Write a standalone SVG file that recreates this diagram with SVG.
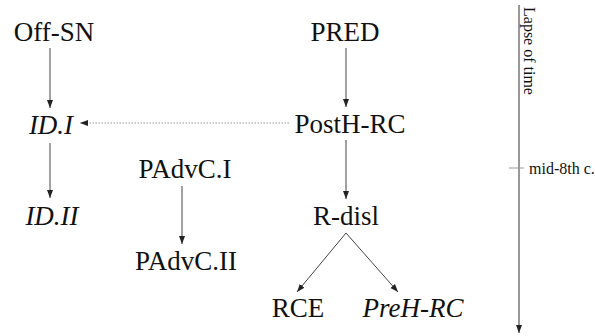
<svg xmlns="http://www.w3.org/2000/svg" width="595" height="336" viewBox="0 0 595 336">
  <style>
    .lbl { font-size: 27px; fill: #111; text-anchor: middle; }
    .it { font-style: italic; }
    .edge { stroke: #444; stroke-width: 1; fill: none; marker-end: url(#ah); }
    .dot { stroke: #999; stroke-width: 1; stroke-dasharray: 1.5 1.5; fill: none; marker-end: url(#ah); }
    .small { font-size: 16px; fill: #111; }
  </style>
  <defs>
    <marker id="ah" viewBox="0 0 8 8" refX="8" refY="4" markerWidth="8" markerHeight="8" markerUnits="userSpaceOnUse" orient="auto">
      <path d="M0,1 L8,4 L0,7 Z" fill="#222"/>
    </marker>
  </defs>
  <rect width="595" height="336" fill="#fff"/>

  <g id="connectors">
    <line class="edge" x1="50" y1="48" x2="50" y2="108"/>
    <line class="edge" x1="50" y1="143" x2="50" y2="198"/>
    <line class="dot" x1="289" y1="123" x2="80" y2="123"/>
    <line class="edge" x1="346" y1="48" x2="346" y2="107"/>
    <line class="edge" x1="346" y1="140" x2="346" y2="199"/>
    <line class="edge" x1="182" y1="186" x2="182" y2="244"/>
    <line class="edge" x1="346" y1="233" x2="297" y2="292"/>
    <line class="edge" x1="346" y1="233" x2="398" y2="292"/>
  </g>

  <g font-family="Liberation Serif, serif">
    <g id="off-sn"><text class="lbl" x="54" y="41">Off-SN</text></g>
    <g id="pred"><text class="lbl" x="345" y="41">PRED</text></g>
    <g id="id-i"><text class="lbl it" x="51" y="134">ID.I</text></g>
    <g id="posth-rc"><text class="lbl" x="350" y="133">PostH-RC</text></g>
    <g id="padvc-i"><text class="lbl" x="185" y="178">PAdvC.I</text></g>
    <g id="id-ii"><text class="lbl it" x="52" y="225">ID.II</text></g>
    <g id="r-disl"><text class="lbl" x="346" y="225">R-disl</text></g>
    <g id="padvc-ii"><text class="lbl" x="186" y="270">PAdvC.II</text></g>
    <g id="rce"><text class="lbl" x="298" y="317">RCE</text></g>
    <g id="preh-rc"><text class="lbl it" x="413" y="317">PreH-RC</text></g>

    <!-- time axis with mid-8th century tick -->
    <g id="timeline">
      <line x1="519" y1="5" x2="519" y2="333" stroke="#333" stroke-width="1" marker-end="url(#ah)"/>
      <line x1="509" y1="168" x2="524" y2="168" stroke="#999" stroke-width="1"/>
      <text class="small" x="529" y="174">mid-8th c.</text>
      <text class="small" transform="translate(524,7) rotate(90)">Lapse of time</text>
    </g>
  </g>
</svg>
